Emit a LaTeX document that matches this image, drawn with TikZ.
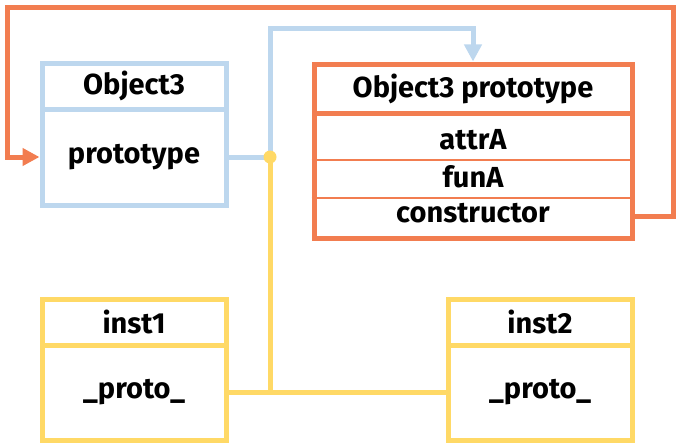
\documentclass[tikz,border=0pt]{standalone}
\usepackage{fontspec}
\setsansfont{Fira Sans}
\usetikzlibrary{arrows.meta,positioning}
\definecolor{ctorblue}{RGB}{189,215,238}
\definecolor{protoorange}{RGB}{242,125,80}
\definecolor{instyellow}{RGB}{255,217,102}

\begin{document}
\begin{tikzpicture}[x=1pt,y=-1pt]
\tikzstyle{every node}=[font=\sffamily\bfseries\fontsize{29}{31}\selectfont]
\tikzstyle{cell}=[draw,line width=5pt,inner sep=0pt]
\tikzstyle{link}=[line width=5pt]
\tikzstyle{tip}=[-{Triangle[length=17pt,width=17pt]}]
\useasboundingbox (0,0) rectangle (679,444);
 % Object3
 \node[cell,draw=ctorblue,minimum width=184pt,minimum height=46pt] (objtitle) at (134,86) {Object3};
 \node[cell,draw=ctorblue,minimum width=184pt,minimum height=96pt,below=-5pt of objtitle] (objbody) {prototype};
 % Object3 prototype
 \node[cell,draw=protoorange,minimum width=318pt,minimum height=49pt] (prototitle) at (473,88.5) {Object3 prototype};
 \node[cell,draw=protoorange,minimum width=318pt,minimum height=125pt,below=-5pt of prototitle] (protobody) {};
 \node (attr) at (473,140) {attrA};
 \node (fun)  at (473,177) {funA};
 \node (ctor) at (473,213) {constructor};
 \draw[protoorange,line width=2pt]
 (protobody.west |- 0,160) -- (protobody.east |- 0,160)
 (protobody.west |- 0,198) -- (protobody.east |- 0,198)
 ;
 % instances
 \node[cell,draw=instyellow,minimum width=184pt,minimum height=46pt] (inst1title) at (134,322) {inst1};
 \node[cell,draw=instyellow,minimum width=184pt,minimum height=95pt,below=-5pt of inst1title] (inst1body) {\_proto\_};
 \node[cell,draw=instyellow,minimum width=184pt,minimum height=95pt,right=217pt of inst1body] (inst2body) {\_proto\_};
 \node[cell,draw=instyellow,minimum width=184pt,minimum height=46pt,above=-5pt of inst2body] (inst2title) {inst2};
 % connectors
 \coordinate (dot) at (270,157);
 \coordinate (bluebend) at (270,29);
 \coordinate (ne) at (673,8);
 \coordinate (nw) at (7,8);
 \draw[link,protoorange,tip]
 ([yshift=-3pt]ctor.center -| protobody.east) -| (ne) -| (nw) |- (objbody.west)
 ;
 \draw[link,ctorblue,tip]
 (objbody.east) -- (dot) -- (bluebend) -| (prototitle.north)
 ;
 \draw[link,instyellow]
 (dot) -- (dot |- inst1body)
 (inst1body.east) -- (inst2body.west)
 ;
 \fill[instyellow] (dot) circle (6.5pt);
\end{tikzpicture}
\end{document}
